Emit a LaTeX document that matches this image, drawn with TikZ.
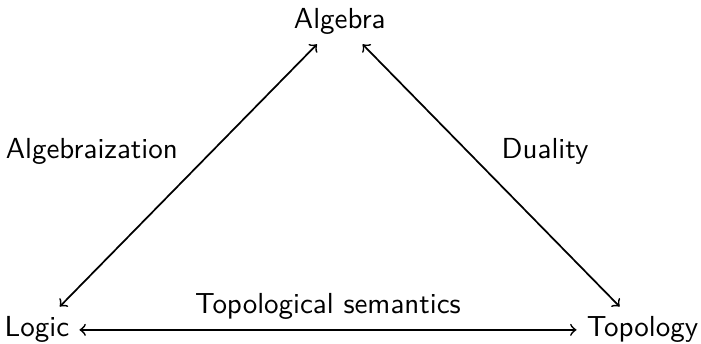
\documentclass[tikz,border=0pt]{standalone}
\usepackage{tikz}
\usetikzlibrary{positioning}
\tikzset{
  field/.style={font=\sffamily},
  lbl/.style={font=\sffamily},
  link/.style={<->, semithick}
}
\begin{document}
\begin{tikzpicture}
    \useasboundingbox (0,0) rectangle (8.5,4.17);
    \node[field] (alg) at (4.12,3.915) {Algebra};
    \node[field] (log) at (0.448,0.17) {Logic};
    \node[field] (top) at (7.79,0.17) {Topology};
    \draw[link] (log)--node[lbl, above left] (algz) {Algebraization} (alg);
    \draw[link] (alg)--node[lbl, above right] (dual) {Duality} (top);
    \draw[link] (log)--node[lbl, above] (tsem) {Topological semantics} (top);
  \end{tikzpicture}
\end{document}
